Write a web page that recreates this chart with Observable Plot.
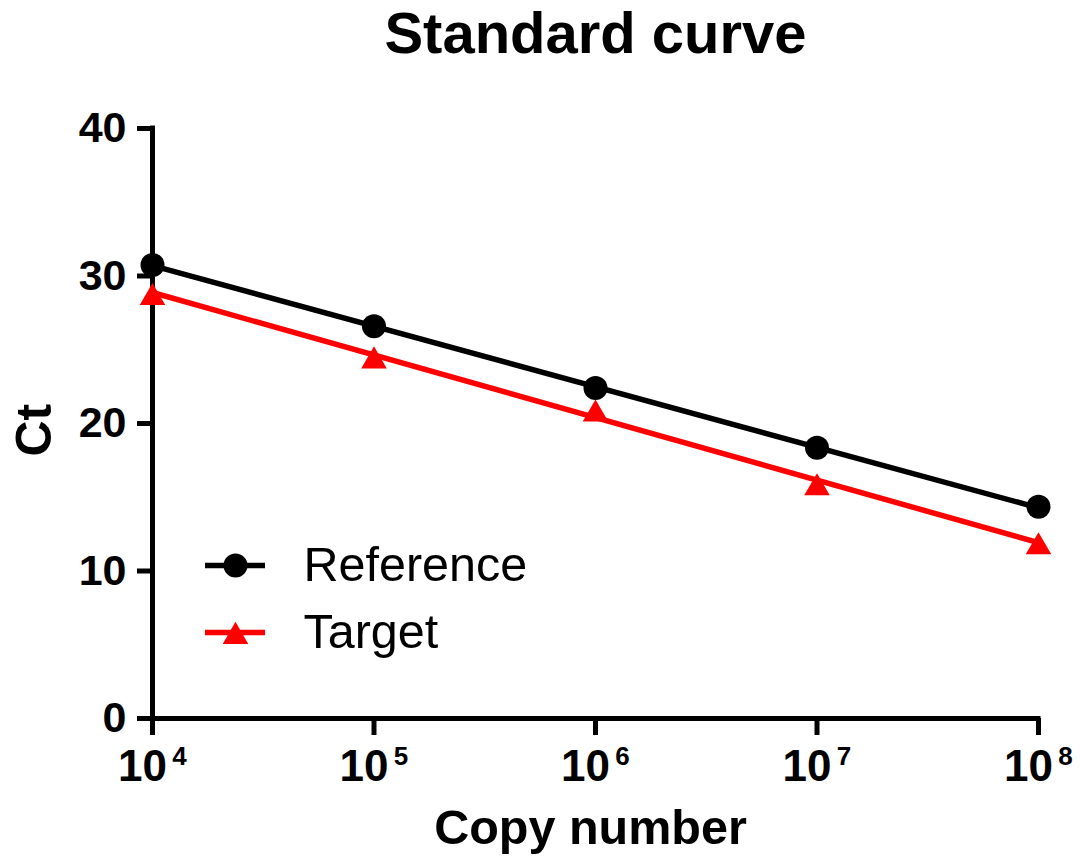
<!DOCTYPE html>
<html>
<head>
<meta charset="utf-8">
<script src="https://cdn.jsdelivr.net/npm/d3@7"></script>
<script src="https://cdn.jsdelivr.net/npm/@observablehq/plot@0.6"></script>
<style>
  html, body { margin: 0; padding: 0; background: #fff; }
  #wrap { position: relative; width: 1080px; height: 862px; font-family: Arial, "Liberation Sans", sans-serif; }
  #legend { position: absolute; left: 190px; top: 530px; }
</style>
</head>
<body>
<div id="wrap"><div id="chart"></div><div id="legend"></div></div>
<script>
// Copy number as log10 exponent
const copyExp = [4, 5, 6, 7, 8];
const referenceCt = [30.75, 26.6, 22.4, 18.35, 14.35];
const targetCt = [28.8, 24.5, 20.9, 15.9, 11.9];
const seriesNames = ["Reference", "Target"];
const seriesColors = ["#000000", "#ff0000"];
const xTicks = [4, 5, 6, 7, 8];
const yTicks = [0, 10, 20, 30, 40];

const refData = copyExp.map((e, i) => ({exp: e, ct: referenceCt[i]}));
const tgtData = copyExp.map((e, i) => ({exp: e, ct: targetCt[i]}));

const font = 'Arial, "Liberation Sans", sans-serif';

const chart = Plot.plot({
  width: 1080,
  height: 862,
  marginTop: 128,
  marginBottom: 144,
  marginLeft: 152,
  marginRight: 42,
  style: {fontFamily: font, background: "#fff", overflow: "visible"},
  x: {type: "linear", domain: [4, 8]},
  y: {domain: [0, 40]},
  marks: [
    Plot.ruleY([0], {x1: 4, x2: 8, stroke: "#000", strokeWidth: 5, strokeLinecap: "square"}),
    Plot.ruleX([4], {y1: 0, y2: 40, stroke: "#000", strokeWidth: 5, strokeLinecap: "square"}),
    Plot.axisY({ticks: yTicks, tickSize: 15, tickPadding: 11, fontSize: 43, fontWeight: "bold", strokeWidth: 5, label: null, fill: "#000"}),
    Plot.axisX({ticks: xTicks, tickSize: 17, tickFormat: () => "", strokeWidth: 5, label: null}),
    Plot.text(xTicks, {x: d => d, text: () => "10", frameAnchor: "bottom", dy: 62, dx: -10, fontSize: 44, fontWeight: "bold", fill: "#000"}),
    Plot.text(xTicks, {x: d => d, text: d => String(d), frameAnchor: "bottom", dy: 46, dx: 27, fontSize: 26, fontWeight: "bold", fill: "#000"}),
    Plot.text(["Standard curve"], {frameAnchor: "top", dy: -117, fontSize: 58, fontWeight: "bold", fill: "#000"}),
    Plot.text(["Copy number"], {frameAnchor: "bottom", dy: 125, dx: -5, fontSize: 48.5, fontWeight: "bold", fill: "#000"}),
    Plot.text(["Ct"], {frameAnchor: "left", rotate: -90, dx: -118, dy: 33, fontSize: 50, fontWeight: "bold", fill: "#000"}),
    Plot.linearRegressionY(refData, {x: "exp", y: "ct", ci: 0, stroke: seriesColors[0], strokeWidth: 5.5}),
    Plot.linearRegressionY(tgtData, {x: "exp", y: "ct", ci: 0, stroke: seriesColors[1], strokeWidth: 5.5}),
    Plot.dot(refData, {x: "exp", y: "ct", r: 12, fill: seriesColors[0], symbol: "circle"}),
    Plot.dot(tgtData, {x: "exp", y: "ct", r: 9.5, fill: seriesColors[1], symbol: "triangle", dy: 4})
  ]
});
document.getElementById("chart").appendChild(chart);

const legendData = seriesNames.map((n, i) => ({name: n, color: seriesColors[i], symbol: i === 0 ? "circle" : "triangle"}));
const legend = Plot.plot({
  width: 360,
  height: 130,
  margin: 0,
  style: {fontFamily: font, background: "transparent", overflow: "visible"},
  x: {type: "linear", domain: [0, 1], range: [15, 75], axis: null},
  y: {type: "point", domain: seriesNames, range: [35, 102], padding: 0, axis: null},
  marks: [
    Plot.ruleY(legendData, {y: "name", x1: 0, x2: 1, stroke: "color", strokeWidth: 5.5}),
    Plot.dot(legendData.filter(d => d.symbol === "circle"), {x: 0.5, y: "name", r: 12, fill: "color", symbol: "circle"}),
    Plot.dot(legendData.filter(d => d.symbol === "triangle"), {x: 0.5, y: "name", r: 9.5, fill: "color", symbol: "triangle", dy: 4}),
    Plot.text(legendData, {x: 1, y: "name", text: "name", textAnchor: "start", dx: 38, fontSize: 48.5, fill: "#000"})
  ],
  color: {type: "identity"}
});
document.getElementById("legend").appendChild(legend);
</script>
</body>
</html>
